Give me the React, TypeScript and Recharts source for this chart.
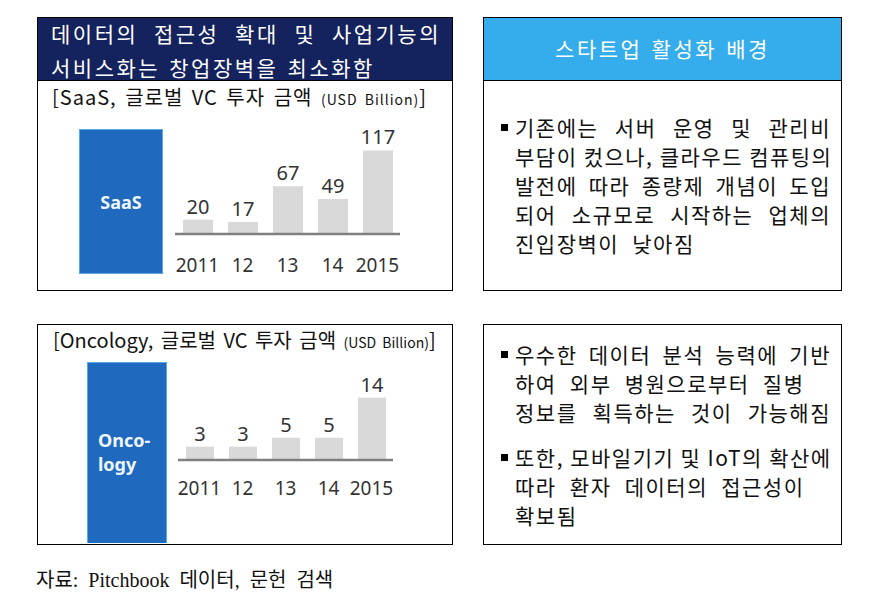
import React from "react";
import { BarChart, Bar, XAxis, YAxis, LabelList } from "recharts";

const years = ["2011", "12", "13", "14", "2015"];
const saasValues = [20, 17, 67, 49, 117];
const oncologyValues = [3, 3, 5, 5, 14];

const leftHeaderLines = ["데이터의 접근성 확대 및 사업기능의", "서비스화는 창업장벽을 최소화함"];
const rightHeader = "스타트업 활성화 배경";
const saasTitle = "[SaaS, 글로벌 VC 투자 금액 ";
const oncologyTitle = "[Oncology, 글로벌 VC 투자 금액 ";
const unitText = "(USD Billion)";
const bullet1Lines = [
  "기존에는 서버 운영 및 관리비",
  "부담이 컸으나, 클라우드 컴퓨팅의",
  "발전에 따라 종량제 개념이 도입",
  "되어 소규모로 시작하는 업체의",
  "진입장벽이 낮아짐",
];
const bullet2Lines = [
  "우수한 데이터 분석 능력에 기반",
  "하여 외부 병원으로부터 질병",
  "정보를 획득하는 것이 가능해짐",
];
const bullet3Lines = [
  "또한, 모바일기기 및 IoT의 확산에",
  "따라 환자 데이터의 접근성이",
  "확보됨",
];
const bullet2Justify = [true, false, true];
const bullet3Justify = [true, false, false];
const bullet1Justify = [true, true, true, true, false];
const sourceText = "자료: Pitchbook 데이터, 문헌 검색";

const saasData = years.map((y, i) => ({ year: y, value: saasValues[i] }));
const oncologyData = years.map((y, i) => ({ year: y, value: oncologyValues[i] }));

const KR = "'Noto Sans CJK KR', 'Noto Sans', sans-serif";
const NUM = "'Noto Sans', 'Open Sans', sans-serif";

const makeTick = (dy: number) => (props: any) => {
  const { x, y, payload } = props;
  return (
    <text x={x} y={y + dy} textAnchor="middle" fontSize={19} fill="#333" fontFamily={NUM}>
      {payload.value}
    </text>
  );
};

function MiniChart({ data, left, top, width, height, margin, domain, barSize, tickDy }: any) {
  return (
    <div style={{ position: "absolute", left, top }}>
      <BarChart width={width} height={height} data={data} margin={margin} barCategoryGap={0}>
        <XAxis
          dataKey="year"
          height={30}
          tickLine={false}
          tickSize={0}
          tickMargin={0}
          axisLine={{ stroke: "#7f7f7f", strokeWidth: 2.5 }}
          tick={makeTick(tickDy)}
          interval={0}
        />
        <YAxis hide domain={domain} />
        <Bar dataKey="value" fill="#d9d9d9" barSize={barSize} isAnimationActive={false}>
          <LabelList
            dataKey="value"
            position="top"
            offset={6}
            fontSize={20}
            fill="#333"
            fontFamily={NUM}
          />
        </Bar>
      </BarChart>
    </div>
  );
}

function Lines({ lines, justify, left, top, width }: any) {
  return (
    <div style={{ position: "absolute", left, top, width }}>
      {lines.map((l: string, i: number) => (
        <div
          key={i}
          style={{
            height: 29,
            lineHeight: "29px",
            fontSize: 21,
            letterSpacing: 1.5,
            color: "#111",
            fontFamily: KR,
            whiteSpace: "nowrap",
            textAlign: justify[i] ? "justify" : "left",
            textAlignLast: justify[i] ? "justify" : "left",
            wordSpacing: justify[i] ? 0 : 7,
          } as any}
        >
          {l}
        </div>
      ))}
    </div>
  );
}

const Square = ({ left, top }: any) => (
  <div style={{ position: "absolute", left, top, width: 7, height: 7, background: "#000" }} />
);

export default function App() {
  return (
    <div
      style={{
        position: "absolute",
        left: 0,
        top: 0,
        width: 870,
        height: 609,
        background: "#fff",
        fontFamily: KR,
        overflow: "hidden",
      }}
    >
      {/* Top-left box */}
      <div
        style={{
          position: "absolute",
          left: 37,
          top: 17,
          width: 416,
          height: 274,
          border: "1.5px solid #000",
          boxSizing: "border-box",
        }}
      />
      <div
        style={{
          position: "absolute",
          left: 37,
          top: 17,
          width: 416,
          height: 64,
          background: "#14225e",
          border: "1.5px solid #000",
          boxSizing: "border-box",
        }}
      />
      <div
        style={{
          position: "absolute",
          left: 51,
          top: 16,
          width: 390,
          color: "#fff",
          fontSize: 21,
          letterSpacing: 2.5,
          fontFamily: KR,
        }}
      >
        <div style={{ height: 34, lineHeight: "34px", textAlign: "justify", textAlignLast: "justify", whiteSpace: "nowrap" } as any}>
          {leftHeaderLines[0]}
        </div>
        <div style={{ height: 34, lineHeight: "34px", whiteSpace: "nowrap", wordSpacing: 2 }}>{leftHeaderLines[1]}</div>
      </div>
      <div
        style={{
          position: "absolute",
          left: 52,
          top: 83,
          height: 28,
          lineHeight: "28px",
          fontSize: 20,
          color: "#111",
          whiteSpace: "nowrap",
          fontFamily: KR,
          wordSpacing: 3,
          letterSpacing: 1,
        }}
      >
        {saasTitle}
        <span style={{ fontSize: 14 }}>{unitText}</span>]
      </div>
      <div
        style={{
          position: "absolute",
          left: 79,
          top: 129,
          width: 84,
          height: 145,
          background: "#1f69bf",
          border: "1px solid #5aa9e6",
          boxSizing: "border-box",
        }}
      />
      <div
        style={{
          position: "absolute",
          left: 79,
          top: 188,
          width: 84,
          textAlign: "center",
          color: "#eef6ff",
          fontWeight: 700,
          fontSize: 18,
          fontFamily: NUM,
          lineHeight: "28px",
        }}
      >
        SaaS
      </div>
      <MiniChart
        data={saasData}
        left={155}
        top={100}
        width={265}
        height={190}
        margin={{ top: 34, right: 20, bottom: 26, left: 20 }}
        domain={[0, 140]}
        barSize={30}
        tickDy={38}
      />

      {/* Bottom-left box */}
      <div
        style={{
          position: "absolute",
          left: 37,
          top: 324,
          width: 416,
          height: 221,
          border: "1.5px solid #000",
          boxSizing: "border-box",
        }}
      />
      <div
        style={{
          position: "absolute",
          left: 53,
          top: 326,
          height: 28,
          lineHeight: "28px",
          fontSize: 20,
          color: "#111",
          whiteSpace: "nowrap",
          fontFamily: KR,
          wordSpacing: 3,
        }}
      >
        {oncologyTitle}
        <span style={{ fontSize: 14 }}>{unitText}</span>]
      </div>
      <div
        style={{
          position: "absolute",
          left: 87,
          top: 362,
          width: 80,
          height: 181,
          background: "#1f69bf",
          border: "1px solid #5aa9e6",
          borderBottom: "none",
          boxSizing: "border-box",
        }}
      />
      <div
        style={{
          position: "absolute",
          left: 98,
          top: 428,
          color: "#eef6ff",
          fontWeight: 700,
          fontSize: 18,
          fontFamily: NUM,
          lineHeight: "24px",
        }}
      >
        <div>Onco-</div>
        <div>logy</div>
      </div>
      <MiniChart
        data={oncologyData}
        left={158}
        top={340}
        width={255}
        height={180}
        margin={{ top: 31, right: 20, bottom: 30, left: 20 }}
        domain={[0, 20]}
        barSize={28}
        tickDy={35}
      />

      {/* Top-right box */}
      <div
        style={{
          position: "absolute",
          left: 483,
          top: 17,
          width: 359,
          height: 274,
          border: "1.5px solid #000",
          boxSizing: "border-box",
        }}
      />
      <div
        style={{
          position: "absolute",
          left: 483,
          top: 17,
          width: 359,
          height: 64,
          background: "#35aceb",
          border: "1.5px solid #000",
          boxSizing: "border-box",
          color: "#fff",
          fontSize: 21,
          letterSpacing: 2.5,
          textAlign: "center",
          lineHeight: "61px",
          wordSpacing: 2,
        }}
      >
        {rightHeader}
      </div>
      <Square left={501} top={124} />
      <Lines lines={bullet1Lines} justify={bullet1Justify} left={515} top={113} width={316} />

      {/* Bottom-right box */}
      <div
        style={{
          position: "absolute",
          left: 483,
          top: 324,
          width: 359,
          height: 221,
          border: "1.5px solid #000",
          boxSizing: "border-box",
        }}
      />
      <Square left={501} top={351} />
      <Lines lines={bullet2Lines} justify={bullet2Justify} left={515} top={340} width={316} />
      <Square left={501} top={454} />
      <Lines lines={bullet3Lines} justify={bullet3Justify} left={515} top={443} width={316} />

      {/* Source */}
      <div
        style={{
          position: "absolute",
          left: 36,
          top: 568,
          fontSize: 20,
          lineHeight: "24px",
          color: "#111",
          fontFamily: "'Liberation Serif', 'Noto Sans CJK KR', serif",
          whiteSpace: "nowrap",
          wordSpacing: 5,
        }}
      >
        {sourceText}
      </div>
    </div>
  );
}
